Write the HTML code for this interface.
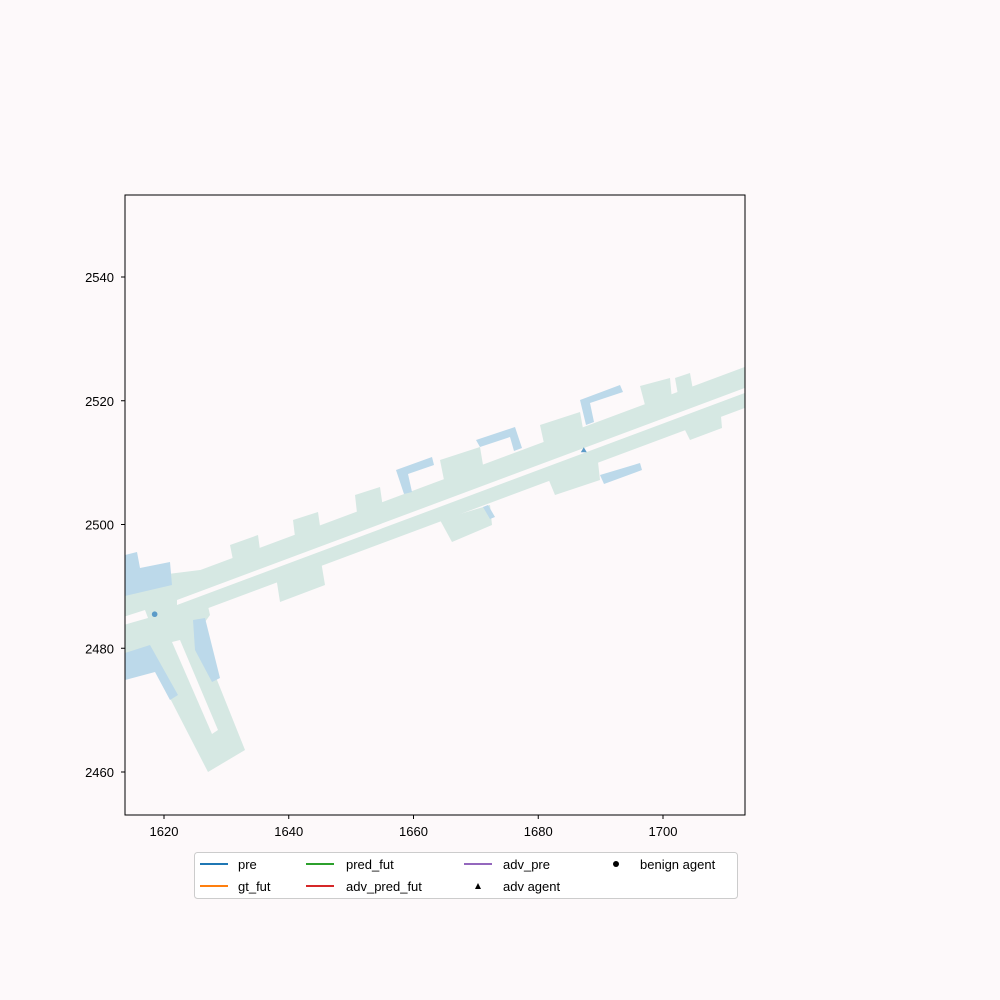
<!DOCTYPE html>
<html><head><meta charset="utf-8"><style>
body{margin:0;background:#fdf9fa;}
svg{display:block;font-family:"Liberation Sans","DejaVu Sans",sans-serif;}
</style></head><body>
<svg width="1000" height="1000" viewBox="0 0 1000 1000">
<rect x="0" y="0" width="1000" height="1000" fill="#fdf9fa"/>
<defs><clipPath id="clip"><rect x="125" y="195" width="620" height="620"/></clipPath></defs>
<g clip-path="url(#clip)">
  <g fill="#d6e8e3">
    <polygon points="120,600 750,365 750,406 120,641" />
    <polygon points="120,580 200,570 210,615 185,650 120,660"/>
    <polygon points="140,640 195,625 245,750 208,772"/>
    <polygon points="230,545 258,535 262,565 235,570"/>
    <polygon points="293,520 318,512 322,540 296,545"/>
    <polygon points="355,495 380,487 384,515 358,522"/>
    <polygon points="440,460 480,447 485,477 445,485"/>
    <polygon points="540,425 580,412 585,440 545,448"/>
    <polygon points="640,386 670,378 672,400 645,405"/>
    <polygon points="675,378 690,373 693,390 678,395"/>
    <polygon points="275,570 320,555 325,585 280,602"/>
    <polygon points="440,520 490,505 492,525 452,542"/>
    <polygon points="548,478 598,462 600,480 555,495"/>
    <polygon points="680,420 720,405 722,428 690,440"/>
  </g>
  <g fill="#fdf9fa">
    <polygon points="177,600 750,386 750,391 177,605"/>
    <polygon points="120,618 145,610 148,618 120,626"/>
    <polygon points="172,642 180,640 218,730 212,734"/>
  </g>
  <g fill="#bcd9ea">
    <polygon points="125,555 137,552 140,568 170,562 172,585 125,596"/>
    <polygon points="125,653 150,645 178,695 170,700 155,672 125,680"/>
    <polygon points="193,620 205,618 220,678 212,682 195,650"/>
    <polygon points="396,470 432,457 434,465 408,474 412,492 404,494"/>
    <polygon points="476,440 515,427 522,448 514,451 510,437 480,447"/>
    <polygon points="580,400 620,385 623,392 590,403 594,422 586,425"/>
    <polygon points="600,475 640,463 642,470 604,484"/>
    <polygon points="483,507 488,505 495,517 490,519"/>
  </g>
</g>
<g><rect x="125" y="195" width="620" height="620" fill="none" stroke="#000" stroke-width="1"/></g>
<g id="ticks" font-size="13" fill="#000"></g>
<g id="agents"></g>
<g>
  <rect x="194.5" y="852.5" width="543" height="46" rx="3" fill="#fff" stroke="#ccc"/>
  <g font-size="13">
    <line x1="200" y1="864" x2="228" y2="864" stroke="#1f77b4" stroke-width="2"/><text x="238" y="869">pre</text>
    <line x1="200" y1="886" x2="228" y2="886" stroke="#ff7f0e" stroke-width="2"/><text x="238" y="891">gt_fut</text>
    <line x1="306" y1="864" x2="334" y2="864" stroke="#2ca02c" stroke-width="2"/><text x="346" y="869">pred_fut</text>
    <line x1="306" y1="886" x2="334" y2="886" stroke="#d62728" stroke-width="2"/><text x="346" y="891">adv_pred_fut</text>
    <line x1="464" y1="864" x2="492" y2="864" stroke="#9467bd" stroke-width="2"/><text x="503" y="869">adv_pre</text>
    <polygon points="478,883 481,889 475,889" fill="#000"/><text x="503" y="891">adv agent</text>
    <circle cx="616" cy="864" r="3" fill="#000"/><text x="640" y="869">benign agent</text>
  </g>
</g>
</svg>
<script>
const xTicks=[1620,1640,1660,1680,1700];
const yTicks=[2460,2480,2500,2520,2540];
const benignX=[1618.5], benignY=[2485.5];
const advX=[1687.3], advY=[2512];
const sx=v=>164+(v-1620)*6.2375;
const sy=v=>772-(v-2460)*6.1875;
const NS="http://www.w3.org/2000/svg";
const tg=document.getElementById('ticks');
xTicks.forEach(t=>{
 const l=document.createElementNS(NS,'line');
 l.setAttribute('x1',sx(t));l.setAttribute('x2',sx(t));l.setAttribute('y1',815);l.setAttribute('y2',819);l.setAttribute('stroke','#000');
 
 
 tg.appendChild(l);
 const s=document.createElementNS(NS,'text');
 s.setAttribute('x',sx(t));s.setAttribute('y',836);s.setAttribute('text-anchor','middle');s.textContent=t;
 
 
 tg.appendChild(s);
});
yTicks.forEach(t=>{
 const l=document.createElementNS(NS,'line');
 l.setAttribute('x1',121);l.setAttribute('x2',125);l.setAttribute('y1',sy(t));l.setAttribute('y2',sy(t));l.setAttribute('stroke','#000');
 
 
 tg.appendChild(l);
 const s=document.createElementNS(NS,'text');
 s.setAttribute('x',114);s.setAttribute('y',sy(t)+5);s.setAttribute('text-anchor','end');s.textContent=t;
 
 
 tg.appendChild(s);
});
const ag=document.getElementById('agents');
benignX.forEach((x,i)=>{
 const c=document.createElementNS(NS,'circle');
 c.setAttribute('cx',sx(x));c.setAttribute('cy',sy(benignY[i]));c.setAttribute('r',2.8);c.setAttribute('fill','#5b9bc8');
 
 
 ag.appendChild(c);
});
advX.forEach((x,i)=>{
 const px=sx(x),py=sy(advY[i]);
 const p=document.createElementNS(NS,'polygon');
 p.setAttribute('points',`${px},${py-3} ${px+3},${py+2} ${px-3},${py+2}`);p.setAttribute('fill','#5b9bc8');
 
 
 ag.appendChild(p);
});
</script>
</body></html>
